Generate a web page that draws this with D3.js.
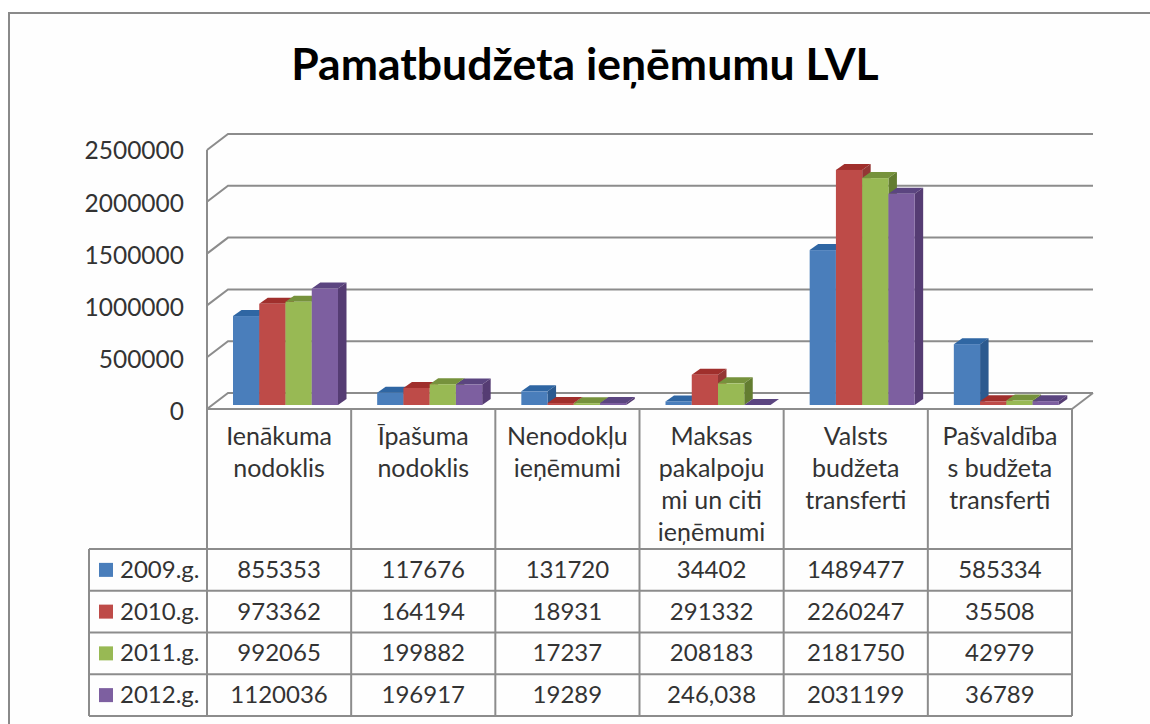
<!DOCTYPE html>
<html>
<head>
<meta charset="utf-8">
<script src="https://cdn.jsdelivr.net/npm/d3@7"></script>
<style>
  html, body { margin: 0; padding: 0; background: #fff; }
  svg { display: block; }
  text { font-family: Lato, "Open Sans", sans-serif; }
</style>
</head>
<body>
<div id="chart-area"></div>
<script>
// Data
var categories = [
    ["Ienākuma", "nodoklis"],
    ["Īpašuma", "nodoklis"],
    ["Nenodokļu", "ieņēmumi"],
    ["Maksas", "pakalpoju", "mi un citi", "ieņēmumi"],
    ["Valsts", "budžeta", "transferti"],
    ["Pašvaldība", "s budžeta", "transferti"]
];
var years = ["2009.g.", "2010.g.", "2011.g.", "2012.g."];
var values2009 = [855353, 117676, 131720, 34402, 1489477, 585334];
var values2010 = [973362, 164194, 18931, 291332, 2260247, 35508];
var values2011 = [992065, 199882, 17237, 208183, 2181750, 42979];
var values2012 = [1120036, 196917, 19289, 246.038, 2031199, 36789];
var series = [values2009, values2010, values2011, values2012];
var yTicks = [0, 500000, 1000000, 1500000, 2000000, 2500000];
var title = "Pamatbudžeta ieņēmumu LVL";

var frontColors = ["#4a7ebb", "#be4b48", "#98b954", "#7d5fa0"];
var topColors = ["#2f66a3", "#a02f2c", "#76923c", "#5b4580"];
var sideColors = ["#2c5a8f", "#943634", "#637d30", "#553c73"];

var width = 1150;
var height = 724;
var gridColor = "#8c8c8c";
var textColor = "#333";

// Depth of the fake 3D
var wallDx = 21, wallDy = -16;
var barDx = 8.5, barDy = -6;

var svg = d3.select("#chart-area")
    .append("svg")
    .attr("width", width)
    .attr("height", height);

// Outer frame, open on the right and at the bottom
svg.append("rect")
    .attr("x", 9).attr("y", 13)
    .attr("width", width - 9).attr("height", height - 13)
    .attr("fill", "#fefefe");
svg.append("path")
    .attr("d", `M9,${height}V13H${width}`)
    .attr("fill", "none")
    .attr("stroke", "#8a8a8a")
    .attr("stroke-width", 2);

svg.append("text")
    .attr("x", 585)
    .attr("y", 80)
    .attr("text-anchor", "middle")
    .attr("font-size", "44.5px")
    .attr("font-weight", "700")
    .attr("fill", "#000")
    .text(title);

// Scales
var x = d3.scaleBand()
    .domain(d3.range(categories.length))
    .range([207, 1072]);
var xBar = d3.scaleBand()
    .domain(d3.range(years.length))
    .range([26, 131]);
var yMax = yTicks[yTicks.length - 1];
var yFront = d3.scaleLinear().domain([0, yMax]).range([409, 150]);
var yBar = d3.scaleLinear().domain([0, yMax]).range([405, 145]);
var yLabel = d3.scaleLinear().domain([0, yMax]).range([412, 151]);
var row = d3.scaleBand()
    .domain(d3.range(years.length))
    .range([549, 716]);

// Gridlines on the back wall and left wall
var grid = svg.append("g")
    .attr("fill", "none")
    .attr("stroke", gridColor)
    .attr("stroke-width", 2);
grid.selectAll("path.grid")
    .data(yTicks)
    .enter()
    .append("path")
    .attr("class", "grid")
    .attr("d", d => `M${x.range()[0]},${yFront(d)}l${wallDx},${wallDy}H${x.range()[1] + wallDx}`);
// Floor edge on the right
grid.append("path")
    .attr("d", `M${x.range()[1]},${yFront(0)}l${wallDx},${wallDy}`);

// Y axis labels
var yAxis = d3.axisLeft(yLabel)
    .tickValues(yTicks)
    .tickSize(0)
    .tickPadding(0)
    .tickFormat(d => d);
var yAxisG = svg.append("g")
    .attr("transform", "translate(184,0)")
    .call(yAxis);
yAxisG.select(".domain").remove();
yAxisG.selectAll("text")
    .attr("font-size", "24.5px")
    .attr("font-family", "Lato, 'Open Sans', sans-serif")
    .attr("fill", textColor);

// Bars, left to right so each one covers the side of the previous one
var barGroups = svg.selectAll("g.cat")
    .data(categories.map((c, i) => i))
    .enter()
    .append("g")
    .attr("class", "cat")
    .attr("transform", c => `translate(${x(c)},0)`);

barGroups.each(function (c) {
    var g = d3.select(this);
    series.forEach((vals, s) => {
        var left = xBar(s);
        var w = xBar.bandwidth();
        var top = yBar(vals[c]);
        var base = yBar(0);
        g.append("polygon")
            .attr("fill", topColors[s])
            .attr("points", [[left, top], [left + barDx, top + barDy], [left + w + barDx, top + barDy], [left + w, top]].join(" "));
        g.append("polygon")
            .attr("fill", sideColors[s])
            .attr("points", [[left + w, top], [left + w + barDx, top + barDy], [left + w + barDx, base + barDy], [left + w, base]].join(" "));
        g.append("rect")
            .attr("x", left)
            .attr("y", top)
            .attr("width", w)
            .attr("height", base - top)
            .attr("fill", frontColors[s]);
    });
});

// Data table lines
var table = svg.append("g")
    .attr("fill", "none")
    .attr("stroke", gridColor)
    .attr("stroke-width", 2);
var tableTop = row.range()[0];
var tableBottom = row.range()[1];
table.append("path")
    .attr("d", `M${x.range()[0]},${yFront(yMax)}V${tableBottom}`);
table.append("path")
    .attr("d", `M${x.range()[0]},${yFront(0)}H${x.range()[1]}`);
table.selectAll("path.col")
    .data(categories.map((c, i) => i))
    .enter()
    .append("path")
    .attr("class", "col")
    .attr("d", c => `M${x(c) + x.step()},${yFront(0)}V${tableBottom}`);
table.selectAll("path.row")
    .data(d3.range(years.length + 1))
    .enter()
    .append("path")
    .attr("class", "row")
    .attr("d", r => `M89,${tableTop + r * row.step()}H${x.range()[1]}`);
table.append("path")
    .attr("d", `M89,${tableTop}V${tableBottom}`);

// Category labels
categories.forEach((lines, c) => {
    svg.append("g").selectAll("text")
        .data(lines)
        .enter()
        .append("text")
        .attr("x", x(c) + x.step() / 2)
        .attr("y", (d, i) => 445 + i * 32)
        .attr("text-anchor", "middle")
        .attr("font-size", "25px")
        .attr("fill", textColor)
        .text(d => d);
});

// Legend keys and table values
years.forEach((year, s) => {
    var cy = row(s) + row.bandwidth() / 2;
    svg.append("rect")
        .attr("x", 99)
        .attr("y", cy - 7)
        .attr("width", 14)
        .attr("height", 14)
        .attr("fill", frontColors[s]);
    svg.append("text")
        .attr("x", 120)
        .attr("y", cy + 8)
        .attr("font-size", "24px")
        .attr("fill", textColor)
        .text(year);
    svg.append("g").selectAll("text")
        .data(series[s])
        .enter()
        .append("text")
        .attr("x", (d, i) => x(i) + x.step() / 2)
        .attr("y", cy + 8)
        .attr("text-anchor", "middle")
        .attr("font-size", "24px")
        .attr("fill", textColor)
        .text(d => String(d).replace(".", ","));
});
</script>
</body>
</html>
